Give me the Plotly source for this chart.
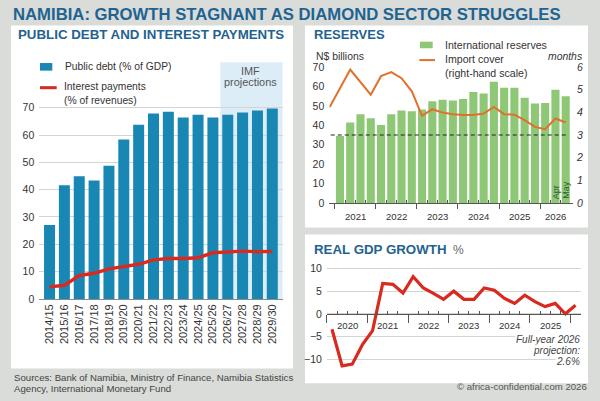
import plotly.graph_objects as go

# ---------------- DATA ----------------
fiscal_years = ["2014/15", "2015/16", "2016/17", "2017/18", "2018/19", "2019/20",
                "2020/21", "2021/22", "2022/23", "2023/24", "2024/25", "2025/26",
                "2026/27", "2027/28", "2028/29", "2029/30"]
public_debt = [27.1, 41.6, 44.9, 43.4, 48.8, 58.4, 63.8, 67.9, 68.5, 66.4, 67.4,
               66.4, 67.4, 68.2, 69.0, 69.7]
interest_payments = [4.4, 5.0, 8.6, 9.4, 11.0, 11.8, 12.7, 14.3, 14.8, 14.8, 15.1,
                     16.9, 17.3, 17.5, 17.3, 17.4]
projection_start = "2026/27"

reserve_periods = ["2021 Q1", "2021 Q2", "2021 Q3", "2021 Q4",
                   "2022 Q1", "2022 Q2", "2022 Q3", "2022 Q4",
                   "2023 Q1", "2023 Q2", "2023 Q3", "2023 Q4",
                   "2024 Q1", "2024 Q2", "2024 Q3", "2024 Q4",
                   "2025 Q1", "2025 Q2", "2025 Q3", "2025 Q4",
                   "2026 Q1", "Apr 2026", "May 2026"]
reserves = [34.5, 41.4, 45.7, 43.6, 40.2, 45.7, 47.6, 47.3, 48.1, 52.4, 53.2, 52.8,
            53.5, 57.1, 56.4, 62.5, 59.3, 59.3, 54.2, 51.2, 51.5, 58.3, 55.0]
cover_periods = ["2020 Q4", "2021 Q2", "2021 Q4",
                 "2022 Q1", "2022 Q2", "2022 Q3", "2022 Q4",
                 "2023 Q1", "2023 Q2", "2023 Q3", "2023 Q4",
                 "2024 Q1", "2024 Q2", "2024 Q3", "2024 Q4",
                 "2025 Q1", "2025 Q2", "2025 Q3", "2025 Q4",
                 "2026 Q1", "Apr 2026", "May 2026"]
import_cover = [4.24, 5.89, 4.78, 5.60, 5.78, 5.51, 4.93, 3.85, 4.14, 3.99, 3.92,
                3.88, 3.88, 3.95, 4.24, 3.92, 3.90, 3.66, 3.36, 3.26, 3.73, 3.55]
cover_threshold = 3
reserve_years = ["2021", "2022", "2023", "2024", "2025", "2026"]
reserve_month_labels = ["Apr", "May"]

gdp_quarters = ["2020 Q1", "2020 Q2", "2020 Q3", "2020 Q4",
                "2021 Q1", "2021 Q2", "2021 Q3", "2021 Q4",
                "2022 Q1", "2022 Q2", "2022 Q3", "2022 Q4",
                "2023 Q1", "2023 Q2", "2023 Q3", "2023 Q4",
                "2024 Q1", "2024 Q2", "2024 Q3", "2024 Q4",
                "2025 Q1", "2025 Q2", "2025 Q3", "2025 Q4", "2026 Q1"]
gdp_growth = [-3.4, -11.5, -11.1, -6.8, -3.7, 6.7, 6.5, 4.6, 8.2, 5.7, 4.5, 3.2,
              5.0, 3.2, 3.2, 5.7, 5.2, 3.4, 2.3, 4.1, 2.7, 1.6, 2.3, 0.0, 1.9]
gdp_years = ["2020", "2021", "2022", "2023", "2024", "2025"]

# ---------------- STYLE ----------------
W, H = 600, 401
def px(x): return x / W
def py(y): return 1 - y / H

FONT = "Liberation Sans, Arial, sans-serif"
BG = "#d9dcd9"
TITLE_BLUE = "#1f6391"
TEXT = "#333333"
DEBT_BLUE = "#1887b3"
PROJ_SHADE = "#dcedf8"
RED = "#d92a1f"
GREEN = "#8ec776"
ORANGE = "#e2702a"
GRID = "#d4d4d4"

# positions derived from the category lists
debt_x = list(range(len(fiscal_years)))
proj_x0 = fiscal_years.index(projection_start) - 0.5

all_res_periods = ["2020 Q4"] + reserve_periods
res_pos = {p: i - 1 for i, p in enumerate(all_res_periods)}
res_x = [res_pos[p] for p in reserve_periods]
cover_x = [res_pos[p] for p in cover_periods]

def year_of(p):
    return [t for t in p.split() if len(t) == 4][0]

res_year_idx = {y: [res_pos[p] for p in reserve_periods if year_of(p) == y] for y in reserve_years}
res_major = [min(v) - 0.5 for v in res_year_idx.values()]
res_minor = [x + 0.5 for x in res_x[:-1] if (x + 0.5) not in res_major]
res_centers = [sum(v) / len(v) for v in res_year_idx.values()]

gdp_x = list(range(len(gdp_quarters)))
gdp_year_first = {}
for i, q in enumerate(gdp_quarters):
    gdp_year_first.setdefault(year_of(q), i)
gdp_major = [i - 0.5 for i in gdp_year_first.values()]
gdp_minor = [i + 0.5 for i in gdp_x[:-2] if (i + 0.5) not in gdp_major]
gdp_centers = [gdp_year_first[y] + 1.5 for y in gdp_years]

fig = go.Figure()

# --- Public debt & interest ---
fig.add_trace(go.Bar(x=debt_x, y=public_debt, marker=dict(color=DEBT_BLUE, line_width=0),
                     width=0.74, xaxis="x", yaxis="y"))
fig.add_trace(go.Scatter(x=debt_x, y=interest_payments, mode="lines",
                         line=dict(color=RED, width=3.4), xaxis="x", yaxis="y"))

# --- Reserves ---
fig.add_trace(go.Bar(x=res_x, y=reserves, marker=dict(color=GREEN, line_width=0),
                     width=0.79, xaxis="x2", yaxis="y2"))
fig.add_trace(go.Scatter(x=cover_x, y=import_cover, mode="lines",
                         line=dict(color=ORANGE, width=2), xaxis="x2", yaxis="y3"))

# --- GDP ---
fig.add_trace(go.Scatter(x=gdp_x, y=gdp_growth, mode="lines",
                         line=dict(color=RED, width=3.2), xaxis="x3", yaxis="y4"))

tickfont = dict(family=FONT, size=10.5, color=TEXT)

fig.update_layout(
    width=W, height=H, margin=dict(l=0, r=0, t=0, b=0),
    paper_bgcolor=BG, plot_bgcolor="rgba(0,0,0,0)", showlegend=False,
    font=dict(family=FONT, color=TEXT),
    # left chart
    xaxis=dict(domain=[px(39.3), px(282.7)], range=[-0.69, 15.70], anchor="y",
               tickmode="array", tickvals=debt_x, ticktext=fiscal_years, tickangle=-90,
               tickfont=dict(family=FONT, size=11, color=TEXT), ticks="",
               showline=True, linecolor="#8a8a8a", linewidth=1, showgrid=False,
               zeroline=False, fixedrange=True),
    yaxis=dict(domain=[py(303.5), py(63.3)], range=[0, 86.6], anchor="x",
               tickmode="array", tickvals=[0, 10, 20, 30, 40, 50, 60, 70],
               tickfont=tickfont, ticks="", ticklabelstandoff=4,
               showgrid=True, gridcolor=GRID, gridwidth=1, zeroline=False, showline=False),
    # reserves
    xaxis2=dict(domain=[px(329.3), px(573)], range=[-1.04, 22.71], anchor="y2",
                tickmode="array", tickvals=res_major, showticklabels=False,
                ticks="outside", ticklen=5, tickcolor="#555", tickwidth=1,
                minor=dict(tickmode="array", tickvals=res_minor, ticks="inside",
                           ticklen=3, tickcolor="#555", tickwidth=1),
                showline=True, linecolor="#555", linewidth=1, showgrid=False, zeroline=False),
    yaxis2=dict(domain=[py(206), py(62)], range=[0, 73.1], anchor="x2",
                tickmode="array", tickvals=[0, 10, 20, 30, 40, 50, 60, 70],
                tickfont=tickfont, ticks="", ticklabelstandoff=4,
                showgrid=False, zeroline=False, showline=False),
    yaxis3=dict(overlaying="y2", side="right", anchor="x2", range=[0, 6.266],
                tickmode="array", tickvals=[0, 1, 2, 3, 4, 5, 6],
                tickfont=dict(family=FONT, size=10.5, color=TEXT, style="italic"),
                ticks="", ticklabelstandoff=3, showgrid=False, zeroline=False, showline=False),
    # GDP
    xaxis3=dict(domain=[px(326.9), px(580.6)], range=[-0.5, 24.5], anchor="free",
                position=py(318.6), tickmode="array", tickvals=gdp_major,
                showticklabels=False, ticks="outside", ticklen=8, tickcolor="#555",
                minor=dict(tickmode="array", tickvals=gdp_minor, ticks="inside",
                           ticklen=3, tickcolor="#555", tickwidth=1),
                showline=True, linecolor="#555", linewidth=1, showgrid=False, zeroline=False),
    yaxis4=dict(domain=[py(375), py(265)], range=[-12.26, 11.65], anchor="x3",
                tickmode="array", tickvals=[-10, -5, 0, 5, 10],
                tickfont=tickfont, ticks="", ticklabelstandoff=4,
                showgrid=True, gridcolor=GRID, gridwidth=1, zeroline=False, showline=False),
)

shapes = []
# white panels
for (x0, y0, x1, y1) in [(11, 26, 293, 374), (305, 26, 588, 231), (305, 238, 588, 389)]:
    shapes.append(dict(type="rect", xref="paper", yref="paper", x0=px(x0), x1=px(x1),
                       y0=py(y1), y1=py(y0), fillcolor="white", line_width=0, layer="below"))
# projection shading
shapes.append(dict(type="rect", xref="x", yref="y domain", x0=proj_x0, x1=15.70, y0=0, y1=1,
                   fillcolor=PROJ_SHADE, line_width=0, layer="below"))
# threshold dashed line (3 months)
shapes.append(dict(type="line", xref="x2", yref="y3", x0=-0.9, x1=22.3,
                   y0=cover_threshold, y1=cover_threshold,
                   line=dict(color="#222", width=1.2, dash="4px,3px"), layer="above"))
# legend keys
shapes.append(dict(type="rect", xref="paper", yref="paper", x0=px(40), x1=px(52.3),
                   y0=py(71.7), y1=py(64), fillcolor=DEBT_BLUE, line_width=0))
shapes.append(dict(type="line", xref="paper", yref="paper", x0=px(40), x1=px(56.7),
                   y0=py(89), y1=py(89), line=dict(color=RED, width=3)))
shapes.append(dict(type="rect", xref="paper", yref="paper", x0=px(420), x1=px(432.7),
                   y0=py(49), y1=py(42.3), fillcolor=GREEN, line_width=0))
shapes.append(dict(type="line", xref="paper", yref="paper", x0=px(419.3), x1=px(435),
                   y0=py(61), y1=py(61), line=dict(color=ORANGE, width=2)))
fig.update_layout(shapes=shapes)

ann = []
def text(x, y, s, size=10.5, color=TEXT, anchor="left", bold=False, italic=False,
         bg=None, xref="paper"):
    d = dict(x=x if xref != "paper" else px(x), y=py(y), xref=xref, yref="paper",
             text=("<b>%s</b>" % s) if bold else s, showarrow=False,
             xanchor=anchor, yanchor="middle",
             font=dict(family=FONT, size=size, color=color,
                       style="italic" if italic else "normal"))
    if bg:
        d.update(bgcolor=bg, borderpad=0)
    ann.append(d)

text(11, 14.8, "NAMIBIA: GROWTH STAGNANT AS DIAMOND SECTOR STRUGGLES", size=16.7,
     color=TITLE_BLUE, bold=True)
text(16, 35.5, "PUBLIC DEBT AND INTEREST PAYMENTS", size=13.3, color=TITLE_BLUE, bold=True)
text(312, 35.5, "RESERVES", size=13.0, color=TITLE_BLUE, bold=True)
text(312, 253.5, "REAL GDP GROWTH", size=13.3, color=TITLE_BLUE, bold=True)
text(451, 253.5, "%", size=12, color="#666")

# left legend
text(63, 67.5, "Public debt (% of GDP)", size=10.3)
text(63, 88.3, "Interest payments", size=10.3, bg="white")
text(63, 101.7, "(% of revenues)", size=10.3, bg="white")
text(13.5, 71.7, "IMF", size=10.9, color="#555", anchor="center", xref="x")
text(13.5, 83.3, "projections", size=10.9, color="#555", anchor="center", xref="x")

# reserves texts
text(314, 57.7, "N$ billions", size=10.4)
text(584, 57.7, "months", size=10.4, anchor="right", italic=True)
text(442.5, 45.7, "International reserves", size=10.6)
text(442.5, 60, "Import cover", size=10.6)
text(442.5, 74.5, "(right-hand scale)", size=10.6)
for yr, cx in zip(reserve_years, res_centers):
    text(cx, 219.5, yr, size=9.6, anchor="center", xref="x2")
for lab, p in zip(reserve_month_labels, ["Apr 2026", "May 2026"]):
    ann.append(dict(x=res_pos[p], y=0, xref="x2", yref="y2", text=lab, showarrow=False,
                    textangle=-90, xanchor="center", yanchor="bottom", yshift=2,
                    font=dict(family=FONT, size=9, color="#2f5e2a")))

# GDP texts
for yr, cx in zip(gdp_years, gdp_centers):
    text(cx, 330, yr, size=9.6, anchor="center", xref="x3")
text(580.5, 344.3, "Full-year 2026", size=10, anchor="right", italic=True, color="#444", bg="white")
text(580.5, 355.8, "projection:", size=10, anchor="right", italic=True, color="#444", bg="white")
text(580.5, 366.8, "2.6%", size=10, anchor="right", italic=True, color="#444", bg="white")

# footer
text(11.5, 383.3, "Sources: Bank of Namibia, Ministry of Finance, Namibia Statistics", size=9.65, color="#444")
text(11.5, 394, "Agency, International Monetary Fund", size=9.65, color="#444")
text(589, 392.5, "© africa-confidential.com 2026", size=9.6, anchor="right", color="#555")

fig.update_layout(annotations=ann)
fig.write_html("out.html")
